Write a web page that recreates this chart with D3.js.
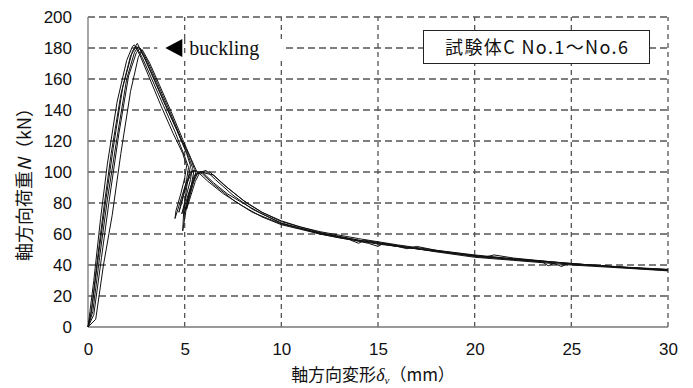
<!DOCTYPE html>
<html><head><meta charset="utf-8">
<script src="https://cdn.jsdelivr.net/npm/d3@7"></script>
<style>html,body{margin:0;padding:0;background:#fff;}svg{display:block;}</style>
</head><body>
<script>
const xTicks = [0, 5, 10, 15, 20, 25, 30];
const yTicks = [0, 20, 40, 60, 80, 100, 120, 140, 160, 180, 200];
const legendText = "試験体C No.1～No.6";
const annotText = "buckling";
const annotPoint = [4.0, 180];

const s1 = [[0,0],[0.1,10],[0.3,30],[0.65,70],[1.0,105],[1.5,145],[2.0,172],[2.3,181],[2.4,182],[2.7,175],[3.2,160],[3.8,142],[4.4,125],[4.9,112],[5.1,104],[5.0,96],[4.8,86],[4.55,75],[4.5,70],[4.7,78],[5.0,90],[5.3,100],[5.6,101],[6.2,94],[7.0,86],[8.0,78],[9.0,71],[10,66],[11,63],[12,60],[13,57.5],[14,55.5],[15,53.5],[16,52],[17,50.5],[18,49],[19,47.5],[20,46],[21,45],[22,44],[23,43],[24,42],[25,41],[26,40],[27,39],[28,38.3],[29,37.5],[30,36.8]];
const s2 = [[0,0],[0.2,12],[0.45,40],[0.8,75],[1.2,112],[1.7,150],[2.2,175],[2.5,181],[2.8,174],[3.3,160],[3.9,143],[4.5,126],[5.0,110],[5.2,103],[5.1,95],[4.9,84],[4.7,74],[4.8,78],[5.1,92],[5.4,101],[5.9,99],[6.5,92],[7.5,82],[8.5,74],[10,66.5],[11.5,62],[13,58],[14.5,54],[15,52],[15.3,54],[16.5,51.5],[18,49],[20,45.5],[22,43.5],[24,41.5],[24.5,39],[24.8,41],[26,40],[28,38],[30,36.5]];
const s3 = [[0,0],[0.15,8],[0.5,42],[0.9,80],[1.3,115],[1.8,155],[2.3,178],[2.55,183],[2.9,174],[3.4,160],[4.0,143],[4.6,127],[5.1,112],[5.3,104],[5.1,90],[4.95,75],[4.9,62],[5.0,70],[5.2,85],[5.5,98],[5.9,100],[6.5,93],[7.2,86],[8,80],[9,73],[10,67],[12,60.5],[14,56],[16,52],[16.5,50.5],[17,52],[18,49.5],[20,46],[22,43.5],[23.5,42],[23.8,39.5],[24.2,41.5],[25,40.5],[27,39],[30,37]];
const s4 = [[0,0],[0.25,10],[0.6,45],[1.0,82],[1.5,122],[2.0,160],[2.4,177],[2.6,181],[3.0,172],[3.5,158],[4.1,141],[4.7,124],[5.2,110],[5.4,103],[5.3,95],[5.05,83],[4.85,73],[4.95,76],[5.3,90],[5.6,99],[6.1,101],[6.6,95],[7.5,85],[8.5,76],[10,67],[12,60],[13.5,56.5],[14,54],[14.3,56],[16,52.5],[18,48.5],[20,45],[22,43],[25,40],[28,37.8],[30,36.2]];
const s5 = [[0,0],[0.3,8],[0.7,45],[1.1,82],[1.6,125],[2.1,162],[2.5,177],[2.7,180],[3.1,171],[3.6,157],[4.2,140],[4.8,122],[5.3,109],[5.5,102],[5.35,92],[5.1,80],[4.95,72],[5.1,78],[5.4,92],[5.7,100],[6.3,100],[7,92],[8,82],[9,74],[10,68],[12,61],[14,56],[16,52],[18,48.8],[19,47.5],[20.5,45],[21,46.5],[22,44.5],[24,42],[25,40.5],[26,40.2],[28,38.2],[30,37]];
const s6 = [[0,0],[0.4,5],[0.8,40],[1.25,72],[1.7,112],[2.2,152],[2.6,174],[2.8,179],[3.2,170],[3.7,156],[4.3,139],[4.9,121],[5.35,108],[5.6,101],[5.45,93],[5.25,84],[5.1,76],[5.25,82],[5.55,94],[5.8,100],[6.5,98],[7.2,90],[8.2,80],[9,74],[10,68.5],[11,64.5],[12,61.5],[14,57],[16,53],[18,49.5],[20,46.5],[22,44],[24,42],[26,40],[28,38.5],[30,37.2]];
const seriesList = [s1, s2, s3, s4, s5, s6];

const W = 693, H = 388;
const svg = d3.select("body").append("svg").attr("width", W).attr("height", H);
const x = d3.scaleLinear().domain([0, 30]).range([88, 668]);
const y = d3.scaleLinear().domain([0, 200]).range([327, 17]);
const numFont = "'Liberation Sans', Arial, sans-serif";
const jpFont = "'Noto Sans CJK JP', sans-serif";

// grid
const g = svg.append("g");
g.selectAll(".hg").data(yTicks.filter(d => d > 0)).join("line")
  .attr("x1", x(0)).attr("x2", x(30)).attr("y1", d => y(d)).attr("y2", d => y(d))
  .attr("stroke", "#555").attr("stroke-width", 1.3).attr("stroke-dasharray", "7,4");
g.selectAll(".vg").data(xTicks.filter(d => d > 0)).join("line")
  .attr("x1", d => x(d)).attr("x2", d => x(d)).attr("y1", y(0)).attr("y2", y(200))
  .attr("stroke", "#555").attr("stroke-width", 1.3).attr("stroke-dasharray", "5,4");

// axes lines
svg.append("line").attr("x1", x(0)).attr("x2", x(0)).attr("y1", y(0)).attr("y2", y(200)).attr("stroke", "#777").attr("stroke-width", 1.3);
svg.append("line").attr("x1", x(0)).attr("x2", x(30)).attr("y1", y(0)).attr("y2", y(0)).attr("stroke", "#777").attr("stroke-width", 1.3);

// ticks labels via axes
const xAxis = svg.append("g").attr("transform", `translate(0,${y(0)})`)
  .call(d3.axisBottom(x).tickValues(xTicks).tickSize(0).tickPadding(16).tickFormat(d3.format("d")));
xAxis.select(".domain").remove();
xAxis.selectAll("text").attr("font-family", numFont).attr("font-size", 17).attr("fill", "#111");
const yAxis = svg.append("g").attr("transform", `translate(${x(0)},0)`)
  .call(d3.axisLeft(y).tickValues(yTicks).tickSize(0).tickPadding(16).tickFormat(d3.format("d")));
yAxis.select(".domain").remove();
yAxis.selectAll("text").attr("font-family", numFont).attr("font-size", 17).attr("fill", "#111");

// annotation background
const ax = x(annotPoint[0]), ay = y(annotPoint[1]);
svg.append("rect").attr("x", ax - 8).attr("y", ay - 9).attr("width", 128).attr("height", 18).attr("fill", "#fff");
svg.append("line").attr("x1", x(5)).attr("x2", x(5)).attr("y1", ay - 9).attr("y2", ay + 9)
  .attr("stroke", "#555").attr("stroke-width", 1.3).attr("stroke-dasharray", "5,4");

// data lines
const line = d3.line().x(d => x(d[0])).y(d => y(d[1]));
svg.append("g").selectAll("path").data(seriesList).join("path")
  .attr("d", line).attr("fill", "none").attr("stroke", "#111").attr("stroke-width", 1);

// annotation
svg.append("path").attr("d", `M${ax},${ay} L${ax + 17},${ay - 9} L${ax + 17},${ay + 9} Z`).attr("fill", "#000");
svg.append("text").attr("x", ax + 24).attr("y", ay + 7).text(annotText)
  .attr("font-family", "'Liberation Serif', 'Times New Roman', serif").attr("font-size", 20).attr("fill", "#111");

// legend box
svg.append("rect").attr("x", 423.5).attr("y", 30.5).attr("width", 226).attr("height", 33)
  .attr("fill", "#fff").attr("stroke", "#222").attr("stroke-width", 1);
svg.append("text").attr("x", 445).attr("y", 54).text(legendText)
  .attr("font-family", jpFont).attr("font-size", 18).attr("fill", "#111")
  .attr("textLength", 183).attr("lengthAdjust", "spacing");

// axis titles
const xt = svg.append("text").attr("x", 373).attr("y", 381).attr("text-anchor", "middle")
  .attr("font-family", jpFont).attr("font-size", 17).attr("fill", "#111");
xt.append("tspan").text("軸方向変形");
xt.append("tspan").text("δ").attr("font-family", "'Liberation Serif', serif").attr("font-style", "italic").attr("font-size", 18);
xt.append("tspan").text("v").attr("font-family", "'Liberation Serif', serif").attr("font-style", "italic").attr("font-size", 11).attr("dy", 3);
xt.append("tspan").text("（mm）").attr("dy", -3);

const yt = svg.append("text").attr("transform", `translate(31,180) rotate(-90)`).attr("text-anchor", "middle")
  .attr("font-family", jpFont).attr("font-size", 18).attr("fill", "#111");
yt.append("tspan").text("軸方向荷重");
yt.append("tspan").text("N").attr("font-style", "italic");
yt.append("tspan").text("（kN）");
</script>
</body></html>
